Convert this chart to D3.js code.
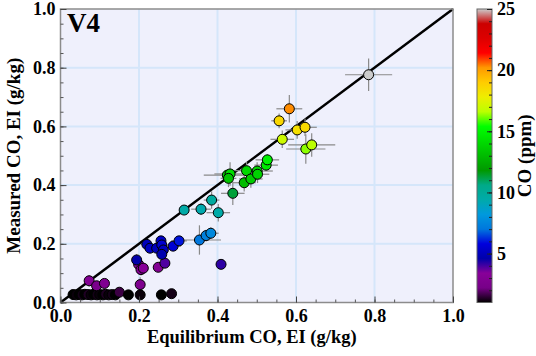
<!DOCTYPE html>
<html>
<head>
<meta charset="utf-8">
<script src="https://cdn.jsdelivr.net/npm/d3@7"></script>
<style>
  body { margin: 0; background: #fff; }
  svg { display: block; font-family: "Liberation Serif", "Times New Roman", serif; font-weight: bold; }
</style>
</head>
<body>
<div id="chart"></div>
<script>
// (1) DATA
const eqCO = [0.032, 0.040, 0.048, 0.055, 0.062, 0.070, 0.078, 0.085, 0.093, 0.100,
  0.108, 0.115, 0.123, 0.132, 0.140, 0.150, 0.173, 0.203, 0.257, 0.283,
  0.073, 0.092, 0.112, 0.203, 0.199, 0.205, 0.211, 0.249, 0.266, 0.194,
  0.220, 0.228, 0.245, 0.256, 0.258, 0.262, 0.258, 0.287, 0.302, 0.354, 0.371, 0.383, 0.409,
  0.315, 0.358, 0.385, 0.402, 0.439,
  0.425, 0.432, 0.428, 0.468, 0.474, 0.485, 0.501, 0.502, 0.524, 0.527,
  0.565, 0.557, 0.583, 0.603, 0.623, 0.625, 0.640, 0.785];
const measCO = [0.027, 0.026, 0.027, 0.026, 0.028, 0.027, 0.026, 0.028, 0.026, 0.027,
  0.026, 0.028, 0.026, 0.027, 0.026, 0.035, 0.026, 0.026, 0.026, 0.030,
  0.074, 0.057, 0.065, 0.061, 0.130, 0.112, 0.117, 0.120, 0.134, 0.145,
  0.198, 0.185, 0.185, 0.210, 0.196, 0.179, 0.164, 0.192, 0.210, 0.213, 0.228, 0.236, 0.130,
  0.315, 0.318, 0.349, 0.306, 0.372,
  0.434, 0.438, 0.423, 0.408, 0.449, 0.421, 0.448, 0.437, 0.468, 0.486,
  0.556, 0.619, 0.660, 0.588, 0.597, 0.523, 0.537, 0.776];
const coPpm = [1.0, 1.1, 1.0, 1.2, 1.0, 1.3, 1.1, 1.0, 1.2, 1.1,
  1.0, 1.3, 1.1, 1.2, 1.0, 1.6, 1.0, 1.1, 1.0, 1.2,
  3.0, 2.4, 2.8, 2.7, 3.4, 3.0, 3.3, 3.0, 3.9, 4.6,
  5.0, 5.2, 5.0, 5.3, 5.5, 5.1, 4.7, 5.6, 6.0, 7.0, 7.3, 7.6, 4.2,
  9.5, 9.3, 9.8, 9.5, 11.3,
  13.6, 14.2, 13.3, 13.0, 14.0, 13.6, 14.0, 13.8, 14.6, 14.9,
  17.0, 18.6, 20.3, 18.3, 18.5, 16.3, 16.6, 25.0];
const eqErr = [0, 0, 0, 0, 0, 0, 0, 0, 0, 0,
  0, 0, 0, 0, 0, 0, 0, 0.005, 0, 0,
  0.01, 0, 0.01, 0.01, 0.01, 0.01, 0, 0.01, 0.01, 0.01,
  0.015, 0.01, 0.01, 0.01, 0.02, 0.01, 0.01, 0.02, 0.02, 0.055, 0.02, 0.02, 0,
  0, 0.025, 0.02, 0.03, 0.03,
  0.06, 0.04, 0.02, 0.03, 0.04, 0.03, 0.04, 0.03, 0.03, 0.03,
  0.03, 0.02, 0.033, 0.03, 0.03, 0.05, 0.06, 0.06];
const measErr = [0, 0, 0, 0, 0, 0, 0, 0, 0, 0,
  0, 0, 0, 0, 0, 0, 0, 0.01, 0, 0,
  0.02, 0, 0.01, 0.025, 0.02, 0.02, 0, 0.01, 0.01, 0.02,
  0.015, 0.01, 0.01, 0.01, 0.01, 0.01, 0.015, 0.01, 0.01, 0.05, 0.02, 0.02, 0,
  0, 0.02, 0.03, 0.03, 0.04,
  0.02, 0.04, 0.03, 0.03, 0.03, 0.03, 0.03, 0.03, 0.02, 0.02,
  0.03, 0.025, 0.047, 0.03, 0.03, 0.05, 0.04, 0.055];
const axisTicks = [0, 0.2, 0.4, 0.6, 0.8, 1.0];
const cbarTicks = [5, 10, 15, 20, 25];

// nipy_spectral colour map stops (position 0..1, colour)
const cmapStops = [
  [0.00, "#000000"], [0.05, "#770088"], [0.10, "#880099"], [0.15, "#0000aa"],
  [0.20, "#0000dd"], [0.25, "#0077dd"], [0.30, "#0099dd"], [0.35, "#00aaaa"],
  [0.40, "#00aa88"], [0.45, "#009900"], [0.50, "#00bb00"], [0.55, "#00dd00"],
  [0.60, "#00ff00"], [0.65, "#bbff00"], [0.70, "#eeee00"], [0.75, "#ffcc00"],
  [0.80, "#ff9900"], [0.85, "#ff0000"], [0.90, "#dd0000"], [0.95, "#cc0000"],
  [1.00, "#cccccc"]
];

// (2) LAYOUT
const width = 536, height = 356;
const margin = {top: 9, left: 60.5, right: 453, bottom: 302.5};
const cbar = {x: 477, w: 15};
const coDomain = [1, 25];
const tickFont = 18;

const x = d3.scaleLinear([0, 1], [margin.left, margin.right]);
const y = d3.scaleLinear([0, 1], [margin.bottom, margin.top]);
const cbarY = d3.scaleLinear(coDomain, [margin.bottom, margin.top]);
const toT = d3.scaleLinear(coDomain, [0, 1]).clamp(true);
const cmap = d3.scaleLinear(cmapStops.map(d => d[0]), cmapStops.map(d => d[1])).interpolate(d3.interpolateRgb);
const color = v => cmap(toT(v));

const svg = d3.select("#chart").append("svg")
  .attr("width", width)
  .attr("height", height)
  .attr("viewBox", [0, 0, width, height]);

// plot background
svg.append("rect")
  .attr("x", x(0)).attr("y", y(1))
  .attr("width", x(1) - x(0)).attr("height", y(0) - y(1))
  .attr("fill", "#eff0fc");

// grid
const grid = svg.append("g").attr("stroke", "#d5e6fa").attr("stroke-width", 2);
grid.selectAll(".gx").data(axisTicks.slice(1, -1)).join("line")
  .attr("x1", d => x(d)).attr("x2", d => x(d))
  .attr("y1", y(0)).attr("y2", y(1));
grid.selectAll(".gy").data(axisTicks.slice(1, -1)).join("line")
  .attr("y1", d => y(d)).attr("y2", d => y(d))
  .attr("x1", x(0)).attr("x2", x(1));

// 1:1 line
svg.append("line")
  .attr("x1", x(0)).attr("y1", y(0))
  .attr("x2", x(1)).attr("y2", y(1))
  .attr("stroke", "#000").attr("stroke-width", 2.5);

const I = d3.range(eqCO.length);

// error bars
const err = svg.append("g").attr("stroke", "#8a8a8a").attr("stroke-width", 1.2);
err.selectAll(".ex").data(I.filter(i => eqErr[i] > 0)).join("line")
  .attr("x1", i => x(eqCO[i] - eqErr[i])).attr("x2", i => x(eqCO[i] + eqErr[i]))
  .attr("y1", i => y(measCO[i])).attr("y2", i => y(measCO[i]));
err.selectAll(".ey").data(I.filter(i => measErr[i] > 0)).join("line")
  .attr("y1", i => y(measCO[i] - measErr[i])).attr("y2", i => y(measCO[i] + measErr[i]))
  .attr("x1", i => x(eqCO[i])).attr("x2", i => x(eqCO[i]));

// points
svg.append("g")
  .selectAll("circle")
  .data(I)
  .join("circle")
  .attr("cx", i => x(eqCO[i]))
  .attr("cy", i => y(measCO[i]))
  .attr("r", 5)
  .attr("fill", i => color(coPpm[i]))
  .attr("stroke", "#000")
  .attr("stroke-width", 1);

// frame
svg.append("rect")
  .attr("x", x(0)).attr("y", y(1))
  .attr("width", x(1) - x(0)).attr("height", y(0) - y(1))
  .attr("fill", "none").attr("stroke", "#8c8c8c").attr("stroke-width", 1.5);

// axes (ticks inside)
const styleText = g => g.selectAll("text")
  .attr("font-size", tickFont).attr("font-family", "Liberation Serif")
  .attr("font-weight", "bold").attr("fill", "#000");
const minor = d3.range(0, 1.0001, 0.05);
svg.append("g")
  .attr("transform", `translate(0,${y(0)})`)
  .call(d3.axisBottom(x).tickValues(minor).tickSize(-3).tickFormat(""))
  .call(g => g.select(".domain").remove())
  .call(g => g.selectAll("line").attr("stroke", "#555"));
svg.append("g")
  .attr("transform", `translate(0,${y(0)})`)
  .call(d3.axisBottom(x).tickValues(axisTicks).tickSize(-6).tickPadding(7).tickFormat(d3.format(".1f")))
  .call(g => g.select(".domain").remove())
  .call(g => g.selectAll("line").attr("stroke", "#444"))
  .call(styleText);

svg.append("g")
  .attr("transform", `translate(${x(0)},0)`)
  .call(d3.axisLeft(y).tickValues(minor).tickSize(-3).tickFormat(""))
  .call(g => g.select(".domain").remove())
  .call(g => g.selectAll("line").attr("stroke", "#555"));
svg.append("g")
  .attr("transform", `translate(${x(0)},0)`)
  .call(d3.axisLeft(y).tickValues(axisTicks).tickSize(-6).tickPadding(5).tickFormat(d3.format(".1f")))
  .call(g => g.select(".domain").remove())
  .call(g => g.selectAll("line").attr("stroke", "#444"))
  .call(styleText);

// panel label
svg.append("text")
  .attr("x", 67).attr("y", 32)
  .attr("font-size", 27)
  .text("V4");

// axis titles
svg.append("text")
  .attr("x", (x(0) + x(1)) / 2 - 5).attr("y", 343)
  .attr("text-anchor", "middle")
  .attr("font-size", 18.5)
  .text("Equilibrium CO, EI (g/kg)");
svg.append("text")
  .attr("transform", `translate(20,${(y(0) + y(1)) / 2}) rotate(-90)`)
  .attr("text-anchor", "middle")
  .attr("font-size", 19)
  .text("Measured CO, EI (g/kg)");

// colour bar
const defs = svg.append("defs");
const grad = defs.append("linearGradient")
  .attr("id", "cgrad")
  .attr("x1", 0).attr("x2", 0).attr("y1", 1).attr("y2", 0);
grad.selectAll("stop").data(cmapStops).join("stop")
  .attr("offset", d => d[0])
  .attr("stop-color", d => d[1]);

svg.append("rect")
  .attr("x", cbar.x).attr("y", cbarY(25))
  .attr("width", cbar.w).attr("height", cbarY(1) - cbarY(25))
  .attr("fill", "url(#cgrad)")
  .attr("stroke", "#666").attr("stroke-width", 1);

svg.append("g")
  .attr("transform", `translate(${cbar.x + cbar.w},0)`)
  .call(d3.axisRight(cbarY).tickValues(d3.range(2, 25)).tickSize(-3).tickFormat(""))
  .call(g => g.select(".domain").remove())
  .call(g => g.selectAll("line").attr("stroke", "#222"));
svg.append("g")
  .attr("transform", `translate(${cbar.x + cbar.w},0)`)
  .call(d3.axisRight(cbarY).tickValues(cbarTicks).tickSize(-5).tickPadding(5))
  .call(g => g.select(".domain").remove())
  .call(g => g.selectAll("line").attr("stroke", "#222"))
  .call(styleText);

svg.append("text")
  .attr("transform", `translate(531,${(y(0) + y(1)) / 2}) rotate(-90)`)
  .attr("text-anchor", "middle")
  .attr("font-size", 19)
  .text("CO (ppm)");
</script>
</body>
</html>
